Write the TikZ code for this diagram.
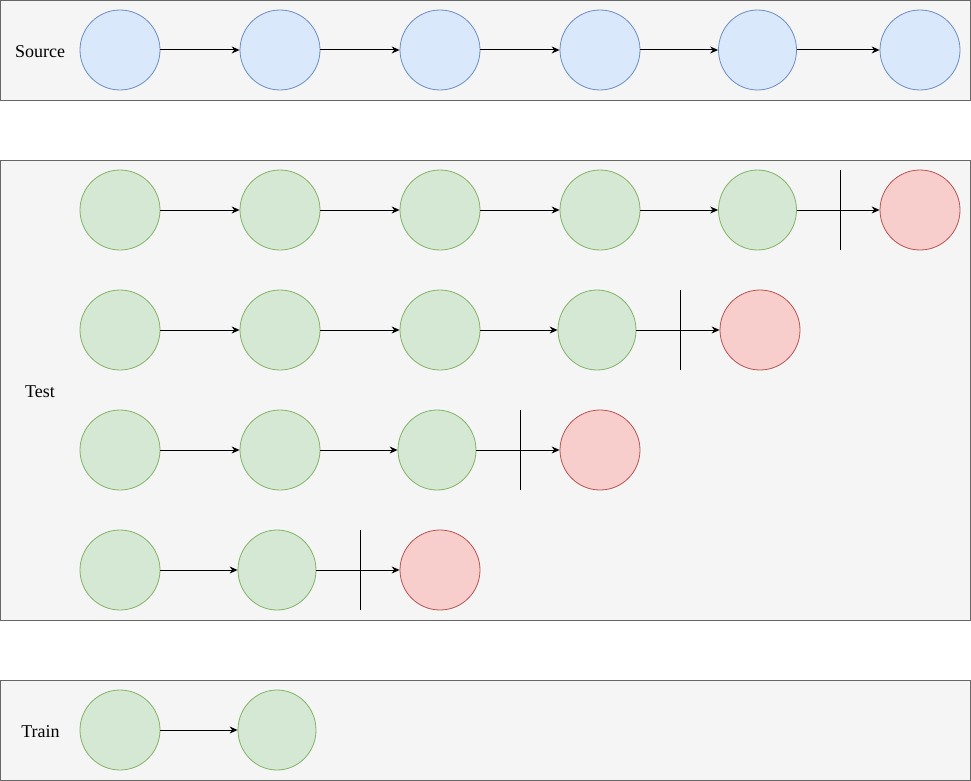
\documentclass[tikz,border=0pt]{standalone}
\usepackage{fontspec}
\setmainfont{Liberation Serif}
\usetikzlibrary{arrows.meta,shapes.geometric}
\definecolor{panelfill}{HTML}{F5F5F5}
\definecolor{panelline}{HTML}{666666}
\definecolor{bluefill}{HTML}{DAE8FC}
\definecolor{blueline}{HTML}{6C8EBF}
\definecolor{greenfill}{HTML}{D5E8D4}
\definecolor{greenline}{HTML}{82B366}
\definecolor{redfill}{HTML}{F8CECC}
\definecolor{redline}{HTML}{B85450}
\begin{document}
\begin{tikzpicture}[x=1pt,y=-1pt,
  panel/.style={draw=panelline,fill=panelfill,line width=1pt},
  state/.style={ellipse,line width=0.8pt,minimum width=80pt,minimum height=80pt,inner sep=0pt},
  narrow/.style={minimum width=78pt},
  src/.style={state,fill=bluefill,draw=blueline},
  ok/.style={state,fill=greenfill,draw=greenline},
  bad/.style={state,fill=redfill,draw=redline},
  link/.style={-{Stealth[length=8pt,width=7pt]},line width=1pt},
  cutbar/.style={line width=1pt},
  lbl/.style={font=\fontsize{18pt}{20pt}\selectfont,inner sep=0pt}]
\useasboundingbox (0,0) rectangle (971,781);
% panels
\draw[panel] (0.5,0.5) rectangle (970.5,100.5);
\draw[panel] (0.5,160.5) rectangle (970.5,620.5);
\draw[panel] (0.5,680.5) rectangle (970.5,780.5);
% labels
\node[lbl] (lsrc) at (40,51.5) {Source};
\node[lbl] (ltest) at (40,391.5) {Test};
\node[lbl] (ltrain) at (40.5,731.5) {Train};
% source row
\node[src] (s1) at (120,50) {};
\node[src] (s2) at (280,50) {};
\node[src] (s3) at (440,50) {};
\node[src] (s4) at (600,50) {};
\node[src,narrow] (s5) at (757.5,50) {};
\node[src] (s6) at (920,50) {};
\draw[link] (s1) -- (s2);
\draw[link] (s2) -- (s3);
\draw[link] (s3) -- (s4);
\draw[link] (s4) -- (s5);
\draw[link] (s5) -- (s6);
% test row 1
\node[ok] (a1) at (120,210) {};
\node[ok] (a2) at (280,210) {};
\node[ok] (a3) at (440,210) {};
\node[ok] (a4) at (600,210) {};
\node[ok,narrow] (a5) at (757.5,210) {};
\node[bad] (a6) at (920,210) {};
\draw[link] (a1) -- (a2);
\draw[link] (a2) -- (a3);
\draw[link] (a3) -- (a4);
\draw[link] (a4) -- (a5);
\draw[link] (a5) -- (a6);
\coordinate (ca1) at (840,170);
\coordinate (ca2) at (840,250);
\draw[cutbar] (ca1) -- (ca2);
% test row 2
\node[ok] (b1) at (120,330) {};
\node[ok] (b2) at (280,330) {};
\node[ok] (b3) at (440,330) {};
\node[ok,narrow] (b4) at (597,330) {};
\node[bad] (b5) at (760,330) {};
\draw[link] (b1) -- (b2);
\draw[link] (b2) -- (b3);
\draw[link] (b3) -- (b4);
\draw[link] (b4) -- (b5);
\coordinate (cb1) at (680,290);
\coordinate (cb2) at (680,370);
\draw[cutbar] (cb1) -- (cb2);
% test row 3
\node[ok] (c1) at (120,450) {};
\node[ok] (c2) at (280,450) {};
\node[ok,narrow] (c3) at (437,450) {};
\node[bad] (c4) at (600,450) {};
\draw[link] (c1) -- (c2);
\draw[link] (c2) -- (c3);
\draw[link] (c3) -- (c4);
\coordinate (cc1) at (520,410);
\coordinate (cc2) at (520,490);
\draw[cutbar] (cc1) -- (cc2);
% test row 4
\node[ok] (d1) at (120,570) {};
\node[ok,narrow] (d2) at (277,570) {};
\node[bad] (d3) at (440,570) {};
\draw[link] (d1) -- (d2);
\draw[link] (d2) -- (d3);
\coordinate (cd1) at (360,530);
\coordinate (cd2) at (360,610);
\draw[cutbar] (cd1) -- (cd2);
% train row
\node[ok] (t1) at (120,730) {};
\node[ok,narrow] (t2) at (277,730) {};
\draw[link] (t1) -- (t2);
\end{tikzpicture}
\end{document}
